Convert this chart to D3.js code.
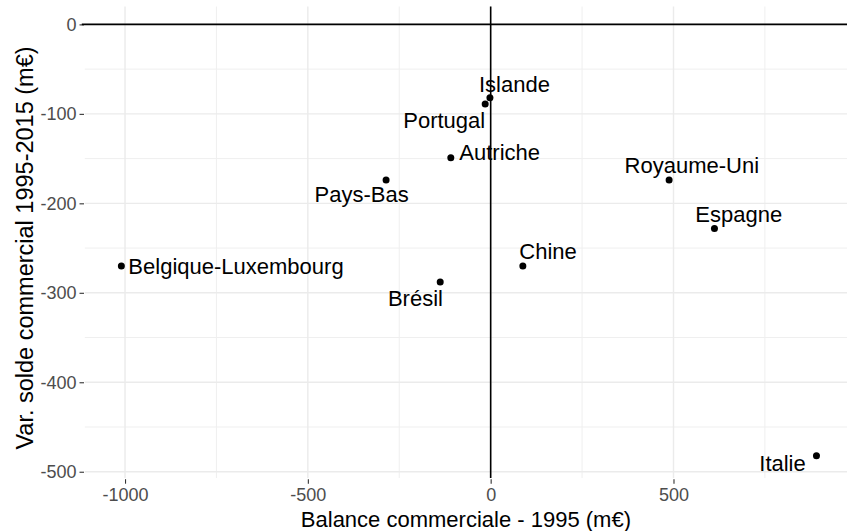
<!DOCTYPE html>
<html>
<head>
<meta charset="utf-8">
<script src="https://cdn.jsdelivr.net/npm/d3@7"></script>
<style>
  html, body { margin: 0; padding: 0; background: #ffffff; }
  svg { display: block; font-family: "Liberation Sans", Arial, sans-serif; }
</style>
</head>
<body>
<svg id="chart" width="847" height="531"></svg>
<script>
// Trade partners: 1995 trade balance vs. change in trade balance 1995-2015 (m€)
const countries = ["Belgique-Luxembourg", "Islande", "Portugal", "Autriche", "Pays-Bas",
                   "Chine", "Brésil", "Royaume-Uni", "Espagne", "Italie"];
const balance1995 = [-1010, -2, -15, -109, -286, 88, -138, 488, 612, 891];
const varSolde = [-270, -82, -89, -149, -174, -270, -288, -174, -228, -482];

const xTicks = [-1000, -500, 0, 500];
const xMinor = [-750, -250, 250, 750];
const yTicks = [0, -100, -200, -300, -400, -500];
const yMinor = [-50, -150, -250, -350, -450];

const xTitle = "Balance commerciale - 1995 (m€)";
const yTitle = "Var. solde commercial 1995-2015 (m€)";

// Label placement around each point: offset in px, text anchor
const labelPlacement = {
  "Belgique-Luxembourg": { dx: 7, dy: 8.5, anchor: "start" },
  "Islande": { dx: 24.5, dy: -6, anchor: "middle" },
  "Portugal": { dx: 0, dy: 24, anchor: "end" },
  "Autriche": { dx: 8.5, dy: 1.8, anchor: "start" },
  "Pays-Bas": { dx: -24.5, dy: 22.3, anchor: "middle" },
  "Chine": { dx: -3.5, dy: -7.4, anchor: "start" },
  "Brésil": { dx: 2.7, dy: 23.7, anchor: "end" },
  "Royaume-Uni": { dx: 22.7, dy: -6.7, anchor: "middle" },
  "Espagne": { dx: 24.3, dy: -6.6, anchor: "middle" },
  "Italie": { dx: -10.7, dy: 15.7, anchor: "end" }
};

const svg = d3.select("#chart");
const panel = { left: 84.8, right: 849, top: 6.5, bottom: 478 };

const x = d3.scaleLinear().domain([-1110, 980]).range([panel.left, panel.right]);
const y = d3.scaleLinear().domain([-507, 20]).range([panel.bottom, panel.top]);

// plain hyphen-minus for negative tick labels
const fmt = d => String(d);

const grid = svg.append("g").attr("class", "grid");
// minor grid
grid.selectAll("line.vminor").data(xMinor).join("line")
  .attr("x1", d => x(d)).attr("x2", d => x(d))
  .attr("y1", panel.top).attr("y2", panel.bottom)
  .attr("stroke", "#efefef").attr("stroke-width", 1);
grid.selectAll("line.hminor").data(yMinor).join("line")
  .attr("x1", panel.left).attr("x2", panel.right)
  .attr("y1", d => y(d)).attr("y2", d => y(d))
  .attr("stroke", "#efefef").attr("stroke-width", 1);
// major grid
grid.selectAll("line.vmajor").data(xTicks).join("line")
  .attr("x1", d => x(d)).attr("x2", d => x(d))
  .attr("y1", panel.top).attr("y2", panel.bottom)
  .attr("stroke", "#ebebeb").attr("stroke-width", 1.4);
grid.selectAll("line.hmajor").data(yTicks).join("line")
  .attr("x1", panel.left).attr("x2", panel.right)
  .attr("y1", d => y(d)).attr("y2", d => y(d))
  .attr("stroke", "#ebebeb").attr("stroke-width", 1.4);

// axes: ticks + labels, no domain line
const xAxis = d3.axisBottom(x).tickValues(xTicks).tickSize(4.5).tickPadding(5).tickFormat(fmt);
const gx = svg.append("g").attr("transform", `translate(0,${panel.bottom + 1.2})`).call(xAxis);
gx.select(".domain").remove();
gx.selectAll(".tick line").attr("stroke", "#333333").attr("stroke-width", 1.1);
gx.selectAll(".tick text").attr("font-size", 18).attr("fill", "#4d4d4d")
  .attr("font-family", "'Liberation Sans', Arial, sans-serif");

const yAxis = d3.axisLeft(y).tickValues(yTicks).tickSize(4.5).tickPadding(3).tickFormat(fmt);
const gy = svg.append("g").attr("transform", `translate(${panel.left - 0.8},0)`).call(yAxis);
gy.select(".domain").remove();
gy.selectAll(".tick line").attr("stroke", "#333333").attr("stroke-width", 1.1);
gy.selectAll(".tick text").attr("font-size", 18).attr("fill", "#4d4d4d")
  .attr("font-family", "'Liberation Sans', Arial, sans-serif");

// reference lines at zero
svg.append("line")
  .attr("x1", panel.left - 3).attr("x2", panel.right)
  .attr("y1", y(0)).attr("y2", y(0))
  .attr("stroke", "#000").attr("stroke-width", 1.6);
svg.append("line")
  .attr("x1", x(0)).attr("x2", x(0))
  .attr("y1", panel.top).attr("y2", panel.bottom)
  .attr("stroke", "#000").attr("stroke-width", 1.6);

const rows = countries.map((c, i) => ({ name: c, bx: balance1995[i], vy: varSolde[i] }));

// points
svg.append("g").selectAll("circle").data(rows).join("circle")
  .attr("cx", d => x(d.bx)).attr("cy", d => y(d.vy))
  .attr("r", 3.5).attr("fill", "#000");

// point labels
svg.append("g").selectAll("text").data(rows).join("text")
  .attr("x", d => x(d.bx) + labelPlacement[d.name].dx)
  .attr("y", d => y(d.vy) + labelPlacement[d.name].dy)
  .attr("text-anchor", d => labelPlacement[d.name].anchor)
  .attr("font-size", 22).attr("fill", "#000")
  .text(d => d.name);

// axis titles
svg.append("text")
  .attr("x", (panel.left + 847) / 2).attr("y", 526.5)
  .attr("text-anchor", "middle").attr("font-size", 22).attr("fill", "#000")
  .text(xTitle);
svg.append("text")
  .attr("transform", `translate(33,248) rotate(-90)`)
  .attr("text-anchor", "middle").attr("font-size", 23.5).attr("fill", "#000")
  .text(yTitle);
</script>
</body>
</html>
